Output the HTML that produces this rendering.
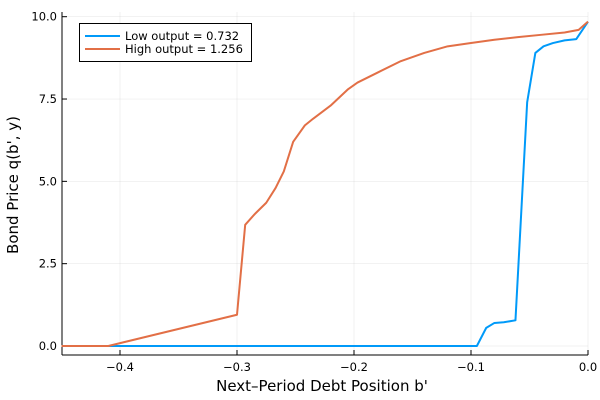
<!DOCTYPE html>
<html><head><meta charset="utf-8"><style>
body{margin:0;background:#fff}
svg{display:block;font-family:"DejaVu Sans","Liberation Sans",sans-serif}
</style></head><body>
<svg id="chart" width="600" height="400"></svg>
<script>
const xTicks=[-0.4,-0.3,-0.2,-0.1,0.0];
const xTickLabels=["\u22120.4","\u22120.3","\u22120.2","\u22120.1","0.0"];
const yTicks=[0,2.5,5,7.5,10];
const yTickLabels=["0.0","2.5","5.0","7.5","10.0"];
const lowX=[-0.45,-0.095,-0.087,-0.08,-0.072,-0.062,-0.052,-0.045,-0.038,-0.03,-0.02,-0.01,0];
const lowY=[0,0,0.55,0.7,0.72,0.78,7.4,8.9,9.1,9.2,9.28,9.32,9.85];
const highX=[-0.45,-0.41,-0.3,-0.293,-0.285,-0.275,-0.267,-0.26,-0.252,-0.242,-0.235,-0.22,-0.205,-0.197,-0.18,-0.16,-0.14,-0.12,-0.1,-0.08,-0.06,-0.04,-0.02,-0.008,0];
const highY=[0,0,0.95,3.68,4.0,4.35,4.8,5.3,6.2,6.7,6.9,7.3,7.8,8.0,8.3,8.65,8.9,9.1,9.2,9.3,9.38,9.45,9.52,9.6,9.85];

const NS="http://www.w3.org/2000/svg";
const svg=document.getElementById('chart');
const L=62,R=588,T=12,B=355;
const xs=v=>588+v*1170;
const ys=v=>346-v*32.93;
function mk(tag,attrs,parent){const e=document.createElementNS(NS,tag);for(const k in attrs)e.setAttribute(k,attrs[k]);(parent||svg).appendChild(e);return e;}

const grid=mk('g',{});


xTicks.forEach(t=>{mk('line',{x1:xs(t),x2:xs(t),y1:T,y2:B,stroke:'#000','stroke-opacity':0.1,'stroke-width':0.5},grid);});
yTicks.forEach(t=>{mk('line',{x1:L,x2:R,y1:ys(t),y2:ys(t),stroke:'#000','stroke-opacity':0.1,'stroke-width':0.5},grid);});

const ax=mk('g',{});


mk('line',{x1:L,x2:L,y1:T,y2:B,stroke:'#000','stroke-width':1},ax);
mk('line',{x1:L,x2:R,y1:B,y2:B,stroke:'#000','stroke-width':1},ax);
xTicks.forEach((t,i)=>{
  mk('line',{x1:xs(t),x2:xs(t),y1:B,y2:B-5,stroke:'#000'},ax);
  const tx=mk('text',{x:xs(t),y:B+16,'text-anchor':'middle','font-size':11.5},ax);
  tx.textContent=xTickLabels[i];
  
  
});
yTicks.forEach((t,i)=>{
  mk('line',{x1:L,x2:L+5,y1:ys(t),y2:ys(t),stroke:'#000'},ax);
  const tx=mk('text',{x:L-5,y:ys(t)+4,'text-anchor':'end','font-size':11.5},ax);
  tx.textContent=yTickLabels[i];
  
  
});
const xt=mk('text',{x:322,y:391,'text-anchor':'middle','font-size':15});
xt.textContent="Next\u2013Period Debt Position b'";


const yt=mk('text',{x:18,y:185,'text-anchor':'middle','font-size':15,transform:'rotate(-90 18 185)'});
yt.textContent="Bond Price q(b', y)";



function line(xa,ya,color,name){
  const p=mk('polyline',{points:xa.map((x,i)=>xs(x)+','+ys(ya[i])).join(' '),fill:'none',stroke:color,'stroke-width':2,'stroke-linejoin':'round'});
  
  
}
line(lowX,lowY,'#009af9','low-output-line');
line(highX,highY,'#e26f46','high-output-line');

const lg=mk('g',{});


mk('rect',{x:79.5,y:23.5,width:172,height:38,fill:'#fff',stroke:'#000','stroke-width':1},lg);
mk('line',{x1:85,x2:120,y1:36,y2:36,stroke:'#009af9','stroke-width':2},lg);
mk('line',{x1:85,x2:120,y1:49,y2:49,stroke:'#e26f46','stroke-width':2},lg);
const l1=mk('text',{x:125,y:40,'font-size':11.5},lg);l1.textContent='Low output = 0.732';


const l2=mk('text',{x:125,y:53,'font-size':11.5},lg);l2.textContent='High output = 1.256';


</script>
</body></html>
